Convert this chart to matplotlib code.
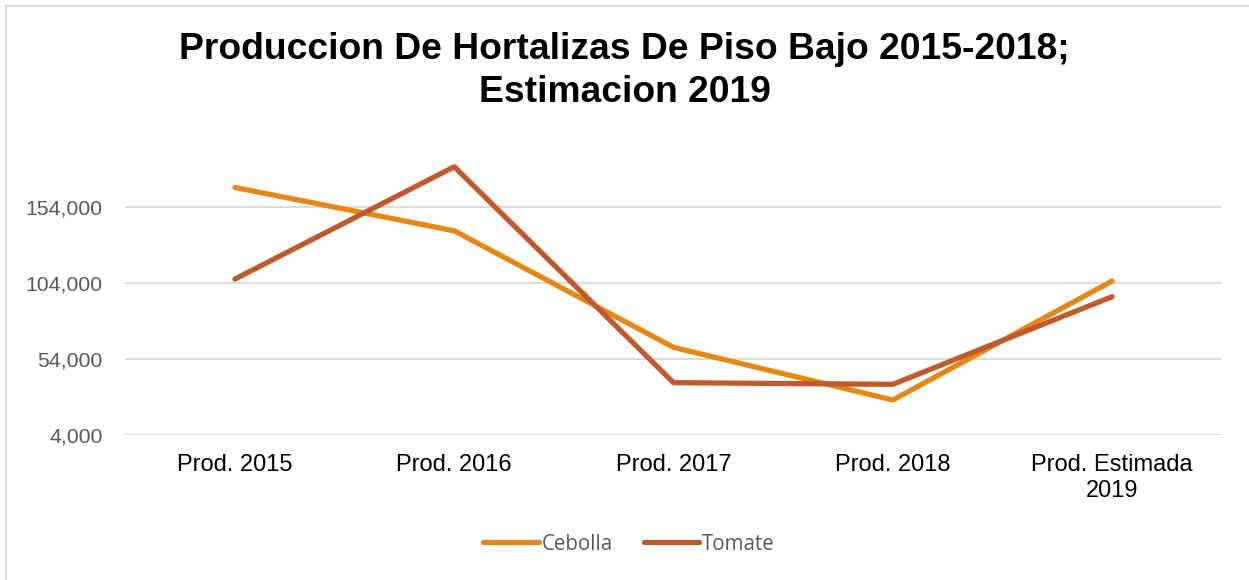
import matplotlib
matplotlib.use("Agg")
import matplotlib.pyplot as plt
from matplotlib.patches import Rectangle
from matplotlib.ticker import FuncFormatter

categories = ["Prod. 2015", "Prod. 2016", "Prod. 2017", "Prod. 2018", "Prod. Estimada\n2019"]
cebolla = [166700, 138200, 61600, 27000, 105200]
tomate = [106500, 180300, 38400, 37300, 94900]
yticks = [4000, 54000, 104000, 154000]

W, H = 1249, 580
fig = plt.figure(figsize=(W / 100, H / 100), dpi=100)
fig.patch.set_facecolor("white")

# outer chart border
fig.add_artist(Rectangle((6 / W, -0.05), 1.1, 1 - 6 / H + 0.05, transform=fig.transFigure,
                         fill=False, edgecolor="#d9d9d9", linewidth=1.5))

left, right = 125.3 / W, 1221.7 / W
bottom, top = 1 - 435 / H, 1 - 152 / H
ax = fig.add_axes([left, bottom, right - left, top - bottom])

x = list(range(len(categories)))
ax.plot(x, cebolla, color="#E68614", linewidth=3.8, solid_capstyle="round", label="Cebolla", zorder=3)
ax.plot(x, tomate, color="#C05A2C", linewidth=3.8, solid_capstyle="round", label="Tomate", zorder=3)

ax.set_xlim(-0.5, len(categories) - 0.5)
ax.set_ylim(4000, 190000)
ax.set_yticks(yticks)
ax.yaxis.set_major_formatter(FuncFormatter(lambda v, p: f"{int(v):,}"))
ax.set_xticks(x)
ax.set_xticklabels(categories, fontsize=17, family="Liberation Sans", color="black", linespacing=1.2)
for lab in ax.get_yticklabels():
    lab.set_fontsize(15.3)
    lab.set_family("Liberation Sans")
    lab.set_color("#595959")
ax.tick_params(axis="both", length=0)
ax.tick_params(axis="y", pad=16.5)
ax.tick_params(axis="x", pad=14)
ax.grid(axis="y", color="#d9d9d9", linewidth=1.3, zorder=0)
for s in ax.spines.values():
    s.set_visible(False)
ax.set_facecolor("none")

fig.text(0.5, 1 - 71 / H, "Produccion De Hortalizas De Piso Bajo 2015-2018;\nEstimacion 2019",
         ha="center", va="center", fontsize=26.8, fontweight="bold", family="Liberation Sans",
         linespacing=1.28)

leg = fig.legend(loc="center", bbox_to_anchor=(629 / W, 1 - 544 / H), ncol=2, frameon=False,
                 prop={"family": "Open Sans", "size": 14.8}, handlelength=2.7, handletextpad=0.15,
                 columnspacing=1.5)
for t in leg.get_texts():
    t.set_color("#595959")

fig.savefig("out.png", dpi=100, facecolor="white")
